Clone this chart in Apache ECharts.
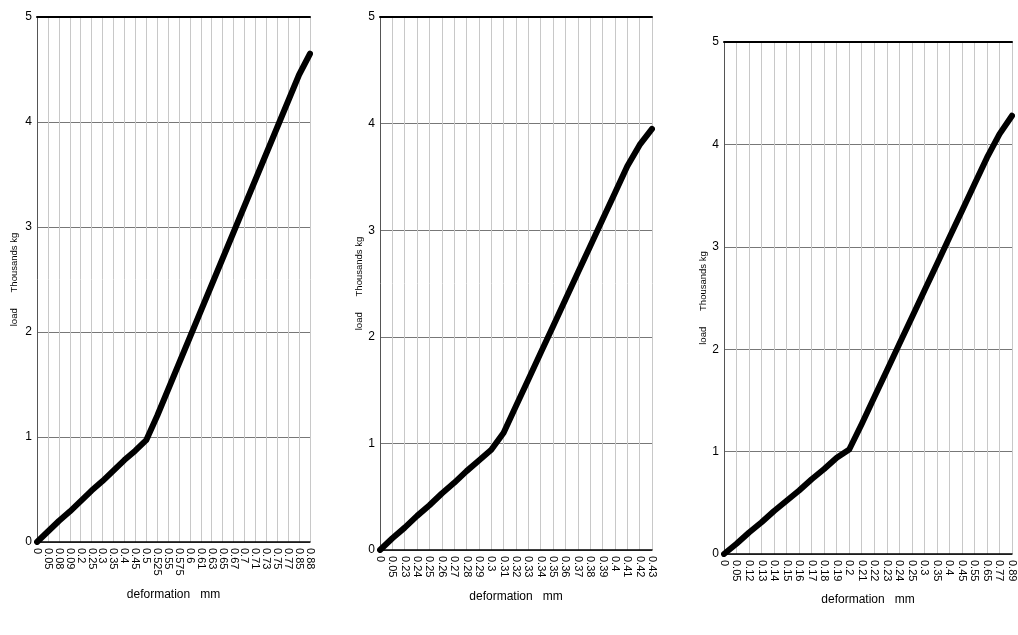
<!DOCTYPE html>
<html><head><meta charset="utf-8">
<script src="https://cdn.jsdelivr.net/npm/echarts@6/dist/echarts.min.js"></script>
<style>html,body{margin:0;padding:0;background:#fff}#c{width:1018px;height:635px}</style>
</head><body><div id="c"></div>
<script>
// Panel 1
const cats1 = ['0','0.05','0.08','0.09','0.2','0.25','0.3','0.35','0.4','0.45','0.5','0.525','0.55','0.575','0.6','0.61','0.63','0.65','0.67','0.7','0.71','0.73','0.75','0.77','0.85','0.88'];
const load1 = [0,0.1,0.2,0.29,0.39,0.49,0.58,0.68,0.78,0.87,0.97,1.2,1.45,1.7,1.95,2.2,2.45,2.7,2.95,3.2,3.45,3.7,3.95,4.2,4.45,4.65];
// Panel 2
const cats2 = ['0','0.05','0.23','0.24','0.25','0.26','0.27','0.28','0.29','0.3','0.31','0.32','0.33','0.34','0.35','0.36','0.37','0.38','0.39','0.4','0.41','0.42','0.43'];
const load2 = [0,0.11,0.21,0.32,0.42,0.53,0.63,0.74,0.84,0.94,1.1,1.35,1.6,1.85,2.1,2.35,2.6,2.85,3.1,3.35,3.6,3.8,3.95];
// Panel 3
const cats3 = ['0','0.05','0.12','0.13','0.14','0.15','0.16','0.17','0.18','0.19','0.2','0.21','0.22','0.23','0.24','0.25','0.3','0.35','0.4','0.45','0.55','0.65','0.77','0.89'];
const load3 = [0,0.1,0.21,0.31,0.42,0.52,0.62,0.73,0.83,0.94,1.02,1.27,1.53,1.79,2.05,2.31,2.57,2.83,3.09,3.35,3.61,3.87,4.1,4.28];

const xName = 'deformation   mm';
const yName = 'load      Thousands kg';
const yTicks = [0,1,2,3,4,5];

const panels = [
  {cats: cats1, data: load1, grid: {left: 37, top: 17, width: 273, height: 525}, yGap: 18, xGap: 47},
  {cats: cats2, data: load2, grid: {left: 380, top: 17, width: 272, height: 533}, yGap: 6, xGap: 41},
  {cats: cats3, data: load3, grid: {left: 724, top: 42, width: 288, height: 512}, yGap: 6, xGap: 40}
];

const narrow = "'Liberation Sans Narrow', 'Liberation Sans', Arial, sans-serif";
const sans = "'Liberation Sans', Arial, sans-serif";

const option = {animation: false, backgroundColor: '#fff', grid: [], xAxis: [], yAxis: [], series: []};
panels.forEach((p, i) => {
  option.grid.push(Object.assign({containLabel: false}, p.grid));
  option.xAxis.push({
    type: 'category', gridIndex: i, data: p.cats, boundaryGap: false,
    name: xName, nameLocation: 'middle', nameGap: p.xGap,
    nameTextStyle: {fontFamily: narrow, fontSize: 12, color: '#000'},
    axisLine: {lineStyle: {color: '#000', width: 1.5}},
    axisTick: {show: false},
    axisLabel: {interval: 0, rotate: -90, fontSize: 11, fontFamily: sans, color: '#000', margin: 6},
    splitLine: {show: true, interval: 0, lineStyle: {color: '#c8c8c8', width: 1}}
  });
  option.xAxis.push({
    type: 'category', gridIndex: i, data: p.cats, boundaryGap: false, position: 'top',
    axisLine: {show: true, lineStyle: {color: '#000', width: 2}},
    axisTick: {show: false}, axisLabel: {show: false}, splitLine: {show: false}
  });
  option.yAxis.push({
    type: 'value', gridIndex: i, min: yTicks[0], max: yTicks[yTicks.length - 1], interval: 1,
    name: yName, nameLocation: 'middle', nameGap: p.yGap, nameRotate: 90,
    nameTextStyle: {fontFamily: sans, fontSize: 9.5, color: '#000'},
    axisLine: {show: true, lineStyle: {color: '#555', width: 1}},
    axisTick: {show: false},
    axisLabel: {fontSize: 12, fontFamily: narrow, color: '#000', margin: 5},
    splitLine: {show: true, lineStyle: {color: '#777', width: 1}}
  });
  option.series.push({
    type: 'line', xAxisIndex: i * 2, yAxisIndex: i, data: p.data,
    showSymbol: false, smooth: false,
    lineStyle: {color: '#000', width: 6, join: 'round', cap: 'round'}, itemStyle: {color: '#000'}
  });
});

const chart = echarts.init(document.getElementById('c'), null, {renderer: 'canvas'});
chart.setOption(option);
</script>
</body></html>
